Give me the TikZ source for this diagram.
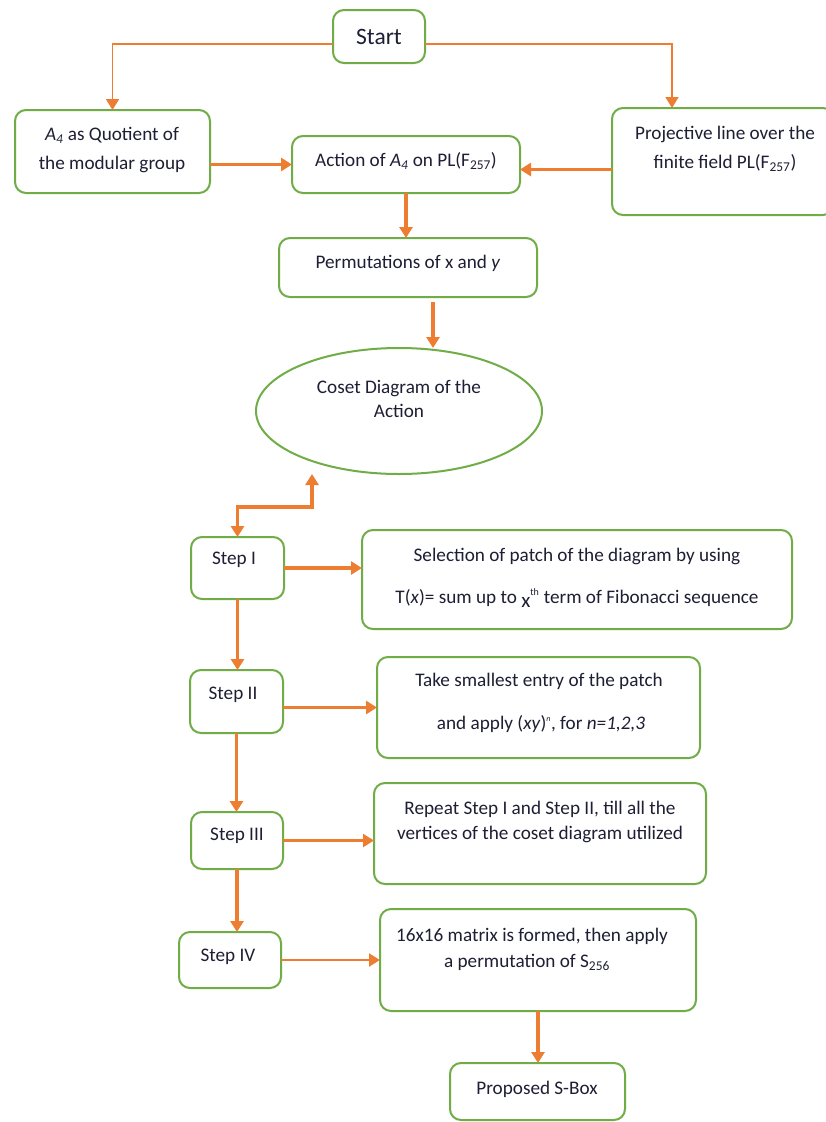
\documentclass[tikz,border=0pt]{standalone}
\usepackage{fontspec}
\setmainfont{Carlito}
\usetikzlibrary{arrows.meta,shapes.geometric}

\begin{document}
\begin{tikzpicture}[x=1pt,y=-1pt,
  ftip/.tip={Triangle[width=13pt,length=11pt]},
  box/.style={draw={rgb,255:red,112;green,173;blue,71},line width=2pt,rounded corners=11pt,inner sep=0pt,outer sep=0pt},
  oval/.style={ellipse,draw={rgb,255:red,112;green,173;blue,71},line width=2pt,inner sep=0pt,outer sep=0pt},
  txt/.style={inner sep=0pt,outer sep=0pt,anchor=base,text={rgb,255:red,30;green,30;blue,52},font=\fontsize{19.2}{23}\selectfont},
  flow/.style={draw={rgb,255:red,237;green,125;blue,49},line width=3.5pt,-ftip},
  thinflow/.style={flow,line width=1.6pt}]
\path[use as bounding box] (0,0) rectangle (826,1122);
\path[fill=white,draw=none] (0,0) rectangle (826,1122);
\node[box,minimum width=92pt,minimum height=53pt] (start) at (379,36.5) {};
\node[txt,font=\fontsize{23.5}{28}\selectfont] (starttxt) at (379,44) {Start};
\node[box,minimum width=195pt,minimum height=83pt] (a4) at (112.5,151.5) {};
\node[txt] (a4txt1) at (112,140.5) {\textit{A}\textsubscript{\textit{4}} as Quotient of};
\node[txt] (a4txt2) at (112,169.5) {the modular group};
\node[box,minimum width=228pt,minimum height=57pt] (action) at (406,164.5) {};
\node[txt] (actiontxt) at (406,166.5) {Action of \textit{A}\textsubscript{\textit{4}} on PL(F\textsubscript{257})};
\node[box,minimum width=222pt,minimum height=107pt] (proj) at (723,161.5) {};
\node[txt] (projtxt1) at (725,139.5) {Projective line over the};
\node[txt] (projtxt2) at (725,168.5) {finite field PL(F\textsubscript{257})};
\node[box,minimum width=258pt,minimum height=59pt] (perm) at (408,267.5) {};
\node[txt] (permtxt) at (408,268.5) {Permutations of x and \textit{y}};
\node[oval,minimum width=286pt,minimum height=126pt] (coset) at (399,411) {};
\node[txt] (cosettxt1) at (399,393.5) {Coset Diagram of the};
\node[txt] (cosettxt2) at (399,417.5) {Action};
\node[box,minimum width=93pt,minimum height=62pt] (step1) at (237.5,568) {};
\node[txt] (step1txt) at (234,564.5) {Step I};
\node[box,minimum width=430pt,minimum height=99pt] (select) at (577,579.5) {};
\node[txt] (selecttxt1) at (577,561.5) {Selection of patch of the diagram by using};
\node[txt] (selecttxt2) at (577,603.5) {T(\textit{x})= sum up to \raisebox{-4pt}{\fontsize{21}{21}\selectfont x}\textsuperscript{\fontsize{10}{10}\selectfont th} term of Fibonacci sequence};
\node[box,minimum width=93pt,minimum height=63pt] (step2) at (236.5,701.5) {};
\node[txt] (step2txt) at (233,699.5) {Step II};
\node[box,minimum width=323pt,minimum height=101pt] (take) at (538.5,707.5) {};
\node[txt] (taketxt1) at (539,686.5) {Take smallest entry of the patch};
\node[txt] (taketxt2) at (541,729.5) {and apply (\textit{xy})\textsuperscript{\fontsize{8}{8}\selectfont\textit{n}}, for \textit{n=1,2,3}};
\node[box,minimum width=92pt,minimum height=57pt] (step3) at (237,840.5) {};
\node[txt] (step3txt) at (237,840.5) {Step III};
\node[box,minimum width=332pt,minimum height=101pt] (repeat) at (540,833.5) {};
\node[txt] (repeattxt1) at (540,814.5) {Repeat Step I and Step II, till all the};
\node[txt] (repeattxt2) at (540,839.5) {vertices of the coset diagram utilized};
\node[box,minimum width=102pt,minimum height=56pt] (step4) at (230,960) {};
\node[txt] (step4txt) at (228,961.5) {Step IV};
\node[box,minimum width=316pt,minimum height=102pt] (form) at (538,960) {};
\node[txt] (formtxt1) at (532,941.5) {16x16 matrix is formed, then apply};
\node[txt] (formtxt2) at (527,967.5) {a permutation of S\textsubscript{256}};
\node[box,minimum width=175pt,minimum height=57pt] (sbox) at (537.5,1091.5) {};
\node[txt] (sboxtxt) at (537,1094.5) {Proposed S-Box};
\coordinate (bend) at (312,507);
\draw[thinflow] ([yshift=-7.5pt]start.west) -| (a4.north);
\draw[thinflow] ([yshift=-7.5pt]start.east) -| ([xshift=-51pt]proj.north);
\draw[flow] (a4.east |- action.west) -- (action.west);
\draw[flow] ([yshift=-5pt]proj.west |- action.east) -- ([yshift=-5pt]action.east);
\draw[flow] (action.south) -- (action.south |- perm.north);
\draw[flow,shorten <=5pt] ([xshift=25pt]perm.south) -- ([xshift=25pt]perm.south |- coset.north);
\draw[flow,ftip-ftip] (step1.north) |- (bend) -- (bend |- coset.south);
\draw[flow] (step1.east) -- (step1.east -| select.west);
\draw[flow] (step1.south) -- (step1.south |- step2.north);
\draw[flow] ([yshift=-6pt]step2.east) -- ([yshift=-6pt]step2.east -| take.west);
\draw[flow] (step2.south) -- (step2.south |- step3.north);
\draw[flow,line width=2.2pt] (step3.east) -- (step3.east -| repeat.west);
\draw[flow] (step3.south) -- (step3.south |- step4.north);
\draw[flow,line width=2.2pt] (step4.east) -- (step4.east -| form.west);
\draw[flow] (form.south) -- (form.south |- sbox.north);
\end{tikzpicture}
\end{document}
